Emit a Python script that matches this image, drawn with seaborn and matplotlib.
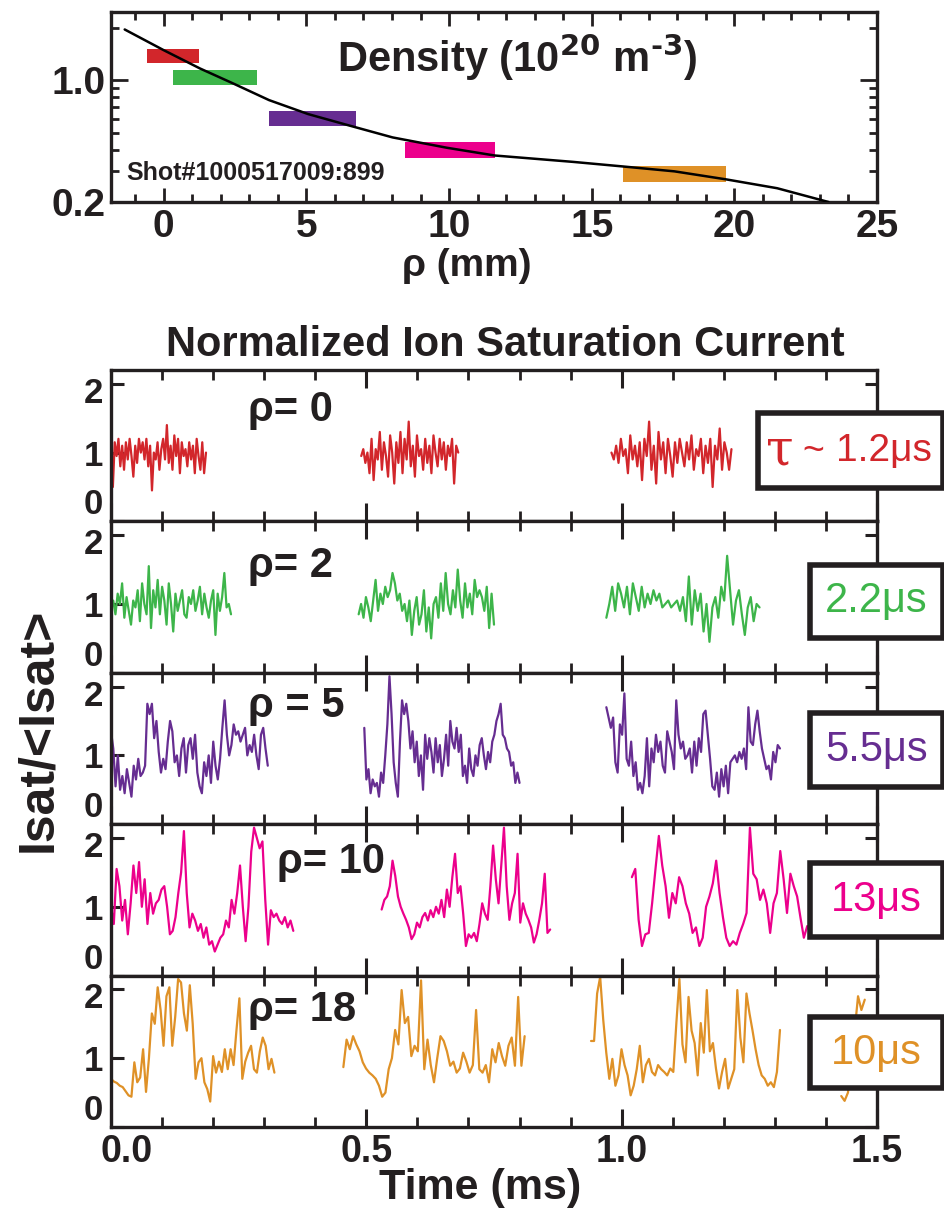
import numpy as np
import pandas as pd
import matplotlib
matplotlib.use("Agg")
import matplotlib.pyplot as plt
import seaborn as sns
from matplotlib.patches import Rectangle
from matplotlib.transforms import ScaledTranslation
from matplotlib.ticker import MultipleLocator, NullFormatter, FixedLocator, FormatStrFormatter

# ---- density profile (top panel) ----
rho_curve = [-1.37, 0.0, 1.27, 2.43, 3.69, 5.06, 6.33, 8.02, 9.92, 11.6, 14.35, 16.1, 17.9, 19.7, 21.5, 23.3]
dens_curve = [1.96, 1.49, 1.17, 0.96, 0.77, 0.64, 0.56, 0.47, 0.41, 0.37, 0.34, 0.32, 0.30, 0.27, 0.24, 0.20]

bar_rho_lo = [-0.59, 0.32, 3.69, 8.44, 16.1]
bar_rho_hi = [1.22, 3.27, 6.75, 11.6, 19.7]
bar_n_lo = [1.26, 0.94, 0.55, 0.36, 0.26]
bar_n_hi = [1.51, 1.14, 0.67, 0.44, 0.32]

colors = ["#d2262b", "#3db54a", "#662d91", "#ec008c", "#df9127"]
rho_labels = ["ρ= 0", "ρ= 2", "ρ = 5", "ρ= 10", "ρ= 18"]
tau_labels = ["1.2μs", "2.2μs", "5.5μs", "13μs", "10μs"]

# ---- normalized Isat time series, one list per segment ----
t_rho0 = [(0.0, 0.186), (0.49, 0.68), (0.98, 1.215)]
isat_rho0 = [
    [1.05, 0.5, 1.15, 0.95, 1.2, 0.8, 1.1, 0.75, 1.15, 0.9, 1.2, 0.95, 0.65, 1.1, 0.85, 1.2, 1.0, 1.15, 0.9, 1.2,
     0.8, 1.1, 0.45, 1.0, 0.9, 1.15, 0.75, 1.05, 1.2, 0.9, 1.4, 0.85, 1.1, 0.75, 1.25, 0.95, 1.2, 0.7, 1.15, 0.95,
     1.05, 0.8, 1.15, 0.9, 1.1, 0.7, 1.2, 0.95, 0.75, 1.15, 0.7, 1.0],
    [0.95, 1.05, 0.85, 1.0, 0.7, 1.2, 0.6, 1.05, 0.9, 1.3, 0.75, 1.15, 0.95, 0.65, 1.25, 1.0, 0.55, 1.15, 0.85, 1.3,
     0.7, 1.2, 0.9, 1.45, 0.8, 1.1, 0.65, 1.25, 0.95, 1.05, 0.75, 1.2, 0.85, 1.1, 0.7, 1.25, 1.0, 0.8, 1.2, 0.9,
     1.15, 0.75, 1.1, 0.95, 1.2, 0.55, 1.1, 1.0],
    [1.0, 0.9, 1.1, 0.85, 1.2, 0.95, 1.05, 0.7, 1.25, 0.9, 1.1, 0.8, 1.15, 0.6, 1.2, 0.95, 1.45, 0.75, 1.1, 0.55,
     1.3, 0.9, 1.15, 0.7, 1.2, 0.95, 0.65, 1.15, 0.85, 1.2, 1.0, 0.8, 1.15, 0.9, 1.25, 0.75, 1.05, 0.95, 1.2, 0.7,
     1.1, 0.85, 1.2, 0.5, 1.1, 0.9, 1.35, 0.75, 1.15, 1.0, 0.75, 1.05],
]

t_rho2 = [(0.0, 0.235), (0.485, 0.75), (0.97, 1.27)]
isat_rho2 = [
    [0.95, 1.05, 0.85, 1.15, 1.0, 1.3, 0.8, 1.1, 0.9, 0.7, 1.05, 0.95, 1.2, 0.75, 1.3, 1.0, 0.85, 1.55, 0.65, 1.2,
     0.95, 1.35, 0.85, 1.25, 1.05, 0.7, 1.3, 1.0, 0.6, 1.15, 0.9, 1.05, 1.2, 0.85, 0.8, 1.1, 1.0, 1.2, 0.9, 1.05,
     1.25, 0.85, 1.15, 0.95, 0.8, 1.05, 1.2, 0.55, 1.15, 0.9, 1.1, 1.45, 0.95, 1.0, 0.85],
    [0.85, 1.0, 0.8, 1.1, 0.95, 0.75, 1.05, 1.35, 0.9, 1.15, 1.0, 1.25, 1.1, 1.2, 1.45, 1.3, 1.05, 1.15, 0.9, 1.0,
     0.75, 1.05, 0.55, 0.9, 1.1, 0.7, 0.85, 1.2, 0.6, 0.95, 0.5, 1.0, 1.1, 0.8, 1.3, 0.9, 1.45, 1.0, 0.85, 1.2,
     0.95, 1.5, 1.05, 0.8, 1.3, 0.95, 1.15, 0.85, 1.35, 1.1, 1.2, 1.1, 0.9, 1.25, 0.65, 1.15, 0.7],
    [0.8, 1.0, 1.25, 0.9, 1.3, 1.15, 0.95, 1.25, 0.85, 1.3, 1.1, 0.9, 1.25, 0.95, 1.15, 1.0, 1.2, 1.05, 1.15, 0.95,
     1.0, 1.05, 0.95, 1.0, 1.05, 0.9, 1.1, 0.75, 1.4, 0.7, 1.2, 0.9, 1.15, 0.6, 1.0, 0.45, 0.95, 1.1, 0.8, 1.25,
     1.05, 1.7, 1.2, 0.7, 1.05, 1.2, 0.85, 0.55, 0.95, 1.1, 0.75, 1.0, 0.95],
]

t_rho5 = [(0.0, 0.307), (0.496, 0.80), (0.97, 1.31)]
isat_rho5 = [
    [1.35, 1.1, 0.55, 1.0, 0.5, 0.7, 0.45, 0.8, 0.6, 0.4, 0.85, 0.65, 0.95, 0.7, 0.75, 0.85, 1.75, 1.6, 1.75, 1.25,
     1.5, 1.05, 0.75, 0.95, 0.8, 1.2, 1.5, 1.35, 0.9, 1.0, 0.7, 1.1, 1.25, 0.75, 1.15, 1.25, 0.95, 1.3, 0.75, 0.55,
     0.45, 0.9, 0.7, 1.0, 0.6, 1.2, 0.85, 0.65, 0.95, 1.4, 1.8, 1.3, 1.0, 1.15, 1.45, 1.3, 1.35, 1.2, 1.3, 1.4,
     1.0, 1.15, 1.05, 1.3, 1.0, 0.8, 1.3, 1.4, 1.1, 0.85],
    [1.4, 0.65, 0.8, 0.45, 0.65, 0.55, 0.6, 0.4, 0.75, 0.6, 1.0, 1.45, 2.15, 1.6, 0.9, 0.6, 0.4, 1.2, 1.8, 1.6,
     1.75, 1.5, 1.1, 1.35, 0.9, 1.2, 0.7, 1.0, 0.5, 1.3, 0.95, 1.25, 1.05, 0.75, 1.25, 0.9, 1.15, 0.7, 0.95, 1.3,
     0.85, 1.5, 1.2, 1.1, 1.4, 1.05, 1.3, 0.7, 0.85, 0.6, 1.1, 0.8, 0.7, 1.0, 0.85, 1.15, 1.25, 1.0, 0.8, 1.05,
     0.9, 1.2, 1.3, 1.5, 1.6, 1.75, 1.3, 1.25, 1.1, 1.05, 0.85, 0.9, 0.6, 0.75, 0.6],
    [1.7, 1.55, 1.4, 1.55, 0.9, 0.75, 1.45, 1.3, 1.9, 0.95, 0.85, 1.2, 0.7, 0.9, 0.5, 0.6, 0.45, 0.7, 1.25, 0.55,
     1.1, 0.9, 1.3, 1.05, 1.2, 0.85, 0.75, 1.35, 1.2, 1.05, 0.8, 1.8, 1.3, 1.1, 1.2, 0.95, 1.0, 1.1, 0.75, 1.2,
     0.85, 1.25, 1.05, 1.6, 1.65, 1.3, 0.95, 0.55, 0.5, 0.75, 0.4, 0.8, 0.55, 0.85, 0.45, 0.9, 0.95, 1.0, 0.9, 1.05,
     0.95, 1.1, 0.8, 1.7, 1.2, 1.15, 1.45, 1.65, 1.35, 1.1, 0.95, 0.8, 0.85, 0.65, 1.05, 0.9, 1.15, 1.1],
]

t_rho10 = [(0.0, 0.357), (0.53, 0.86), (1.02, 1.37)]
isat_rho10 = [
    [1.0, 0.75, 1.55, 1.3, 0.8, 1.1, 0.6, 1.05, 1.6, 1.2, 1.65, 1.0, 1.4, 0.75, 1.2, 0.9, 1.05, 1.1, 1.25, 1.3,
     1.0, 0.6, 0.65, 0.85, 1.2, 1.5, 2.1, 1.2, 0.7, 0.9, 0.8, 0.65, 0.75, 0.55, 0.7, 0.45, 0.5, 0.35, 0.45, 0.55,
     0.6, 0.8, 0.7, 1.1, 0.9, 1.2, 1.6, 1.0, 0.5, 1.0, 1.8, 2.15, 2.0, 1.85, 1.95, 1.1, 0.45, 0.95, 0.85, 0.9,
     0.8, 0.75, 0.85, 0.7, 0.8, 0.65],
    [0.96, 1.1, 1.15, 1.3, 1.67, 1.45, 1.15, 1.0, 0.9, 0.81, 0.7, 0.53, 0.6, 0.77, 0.7, 0.85, 0.91, 0.8, 0.95, 0.85,
     1.0, 0.9, 1.1, 0.85, 1.25, 1.0, 1.43, 1.77, 1.2, 1.3, 0.9, 0.43, 0.6, 0.55, 0.62, 0.5, 0.75, 1.05, 0.9, 0.81,
     1.3, 1.89, 1.4, 1.05, 1.6, 2.15, 1.3, 0.81, 1.05, 1.2, 1.77, 0.77, 1.05, 0.9, 0.81, 0.7, 0.48, 0.6, 0.81, 1.05,
     1.48, 0.62, 0.67],
    [1.43, 1.55, 0.81, 0.43, 0.6, 0.62, 1.05, 1.55, 2.03, 1.6, 1.3, 0.84, 1.2, 1.05, 1.43, 1.3, 1.05, 0.9, 0.62, 0.7,
     0.43, 0.55, 1.0, 1.15, 1.34, 1.67, 1.2, 0.85, 0.55, 0.43, 0.5, 0.45, 0.62, 0.75, 0.91, 2.15, 1.48, 1.4, 1.1, 1.25,
     1.05, 0.62, 1.05, 1.2, 1.81, 1.4, 0.91, 1.48, 1.3, 1.15, 0.84, 0.55, 0.72, 0.62],
]

t_rho18 = [(0.0, 0.32), (0.455, 0.81), (0.94, 1.31), (1.43, 1.476)]
isat_rho18 = [
    [0.70, 0.66, 0.64, 0.60, 0.58, 0.52, 0.46, 0.44, 0.94, 0.65, 0.72, 1.13, 0.51, 1.0, 1.65, 1.5, 2.03, 1.7, 1.18, 1.9,
     2.03, 1.18, 1.6, 2.15, 2.1, 1.65, 1.4, 2.06, 1.5, 0.70, 0.94, 1.0, 0.65, 0.55, 0.37, 1.03, 0.79, 0.95, 0.8, 1.13,
     0.84, 1.13, 0.9, 1.41, 1.87, 0.70, 0.95, 1.08, 1.18, 0.84, 0.79, 1.1, 1.30, 1.18, 0.84, 0.99, 0.79],
    [0.87, 1.27, 1.13, 1.32, 1.2, 1.1, 0.94, 0.85, 0.79, 0.75, 0.7, 0.6, 0.44, 0.5, 0.84, 1.0, 1.41, 1.2, 1.99, 1.51,
     1.6, 1.03, 1.18, 1.1, 2.13, 0.84, 1.27, 0.9, 0.65, 1.0, 1.32, 1.25, 1.1, 0.89, 0.95, 0.79, 0.85, 1.08, 0.95, 0.79,
     0.9, 1.70, 0.84, 0.79, 0.9, 0.65, 1.13, 0.94, 1.22, 1.03, 0.89, 1.18, 1.3, 0.89, 1.89, 0.89, 1.32],
    [1.25, 1.25, 1.94, 2.18, 1.56, 1.08, 0.70, 0.99, 0.6, 0.75, 1.13, 0.9, 0.75, 0.46, 0.6, 0.84, 1.18, 0.65, 0.9, 0.99,
     0.8, 0.75, 0.9, 0.84, 0.8, 0.75, 0.85, 0.8, 1.51, 2.15, 1.2, 0.94, 1.89, 1.4, 1.22, 0.75, 1.51, 1.08, 1.99, 1.1,
     1.22, 0.85, 0.56, 0.8, 0.99, 0.56, 0.7, 0.84, 1.99, 1.3, 0.94, 1.94, 1.65, 1.4, 1.13, 0.9, 0.75, 0.70, 0.6, 0.65,
     0.58, 0.8, 1.41],
    [0.45, 0.38, 0.5, 1.0, 1.4, 1.9, 1.7, 1.85],
]

panel_times = [t_rho0, t_rho2, t_rho5, t_rho10, t_rho18]
panel_isat = [isat_rho0, isat_rho2, isat_rho5, isat_rho10, isat_rho18]

# ---- style ----
sns.set_style("ticks")
FONT = ["Liberation Sans", "DejaVu Sans"]
plt.rcParams["font.family"] = FONT
plt.rcParams["font.weight"] = "bold"
plt.rcParams["axes.linewidth"] = 2.4
plt.rcParams["axes.edgecolor"] = "#231f20"
plt.rcParams["xtick.direction"] = "in"
plt.rcParams["ytick.direction"] = "in"
plt.rcParams["xtick.top"] = True
plt.rcParams["ytick.right"] = True
plt.rcParams["mathtext.default"] = "bf"

W, H = 945, 1222
fig = plt.figure(figsize=(W / 100, H / 100), dpi=100)


def fx(px):
    return px / W


def fy(py):
    return 1 - py / H


def nudge(lab, dx_px, dy_px):
    # shift a tick label by a few pixels (positive dy = up)
    lab.set_transform(lab.get_transform() + ScaledTranslation(dx_px / 100, dy_px / 100, fig.dpi_scale_trans))


LEFT, RIGHT = 111, 877
INK = "#231f20"

# ---- top: density ----
ax0 = fig.add_axes([fx(LEFT), fy(202), fx(RIGHT) - fx(LEFT), (202 - 12) / H])
for x0, x1, lo, hi, c in zip(bar_rho_lo, bar_rho_hi, bar_n_lo, bar_n_hi, colors):
    ax0.fill_between([x0, x1], [lo, lo], [hi, hi], color=c, lw=0, zorder=2)
sns.lineplot(x=rho_curve, y=dens_curve, ax=ax0, color="black", linewidth=1.8, zorder=3)
ax0.set_yscale("log")
ax0.set_xlim(-1.85, 25)
ax0.set_ylim(0.2, 2.47)
ax0.yaxis.set_major_locator(FixedLocator([0.2, 1.0]))
ax0.yaxis.set_major_formatter(FormatStrFormatter("%.1f"))
ax0.yaxis.set_minor_locator(FixedLocator([0.3, 0.4, 0.5, 0.6, 0.7, 0.8, 0.9, 2.0]))
ax0.yaxis.set_minor_formatter(NullFormatter())
ax0.xaxis.set_major_locator(MultipleLocator(5))
ax0.xaxis.set_minor_locator(MultipleLocator(1))
ax0.tick_params(which="major", length=10, width=2, labelsize=28, pad=5, colors=INK)
ax0.tick_params(which="minor", length=6, width=2, colors=INK)
ax0.tick_params(axis="y", which="major", length=12, pad=4)
for lab in ax0.get_xticklabels() + ax0.get_yticklabels():
    lab.set_fontweight("bold")
ax0.text(0.53, 0.76, "Density (10$^{20}$ m$^{\\text{-}3}$)", transform=ax0.transAxes,
         ha="center", va="center", fontsize=30, fontweight="bold", color=INK)
ax0.text(0.02, 0.15, "Shot#1000517009:899", transform=ax0.transAxes, ha="left", va="center",
         fontsize=18, fontweight="bold", color=INK)
fig.text(fx(467), fy(266), "ρ (mm)", ha="center", va="center", fontsize=28, fontweight="bold", color=INK)

# ---- bottom: Isat panels ----
fig.text(fx(505), fy(345), "Normalized Ion Saturation Current", ha="center", va="center",
         fontsize=30, fontweight="bold", color=INK)

top, ph = 370, 151.4
for i in range(5):
    y_top = top + i * ph
    ax = fig.add_axes([fx(LEFT), fy(y_top + ph), fx(RIGHT) - fx(LEFT), ph / H])
    for (t0, t1), vals in zip(panel_times[i], panel_isat[i]):
        t = np.linspace(t0, t1, len(vals))
        sns.lineplot(x=t, y=vals, ax=ax, color=colors[i], linewidth=1.6)
    ax.set_xlim(0, 1.5)
    ax.set_ylim(0, 2.2)
    ax.yaxis.set_major_locator(FixedLocator([0, 1, 2]))
    ax.yaxis.set_major_formatter(FormatStrFormatter("%d"))
    ax.xaxis.set_major_locator(FixedLocator([0.0, 0.5, 1.0, 1.5]))
    ax.xaxis.set_major_formatter(FormatStrFormatter("%.1f"))
    ax.xaxis.set_minor_locator(MultipleLocator(0.1))
    ax.tick_params(axis="x", which="major", length=13, width=2.2, colors=INK)
    ax.tick_params(axis="x", which="minor", length=7, width=2, colors=INK)
    ax.tick_params(axis="y", which="major", length=9, width=2.2, labelsize=25, pad=6, colors=INK)
    if i < 4:
        ax.tick_params(axis="x", labelbottom=False)
    else:
        ax.tick_params(axis="x", labelsize=27, pad=5)
        nudge(ax.get_xticklabels()[0], 16, 0)
    ylabs = ax.get_yticklabels()
    ylabs[0].set_verticalalignment("bottom")
    nudge(ylabs[2], 0, -6)
    for lab in ax.get_xticklabels() + ylabs:
        lab.set_fontweight("bold")

label_x = [248, 248, 248, 277, 248]
label_y = [410, 566, 706, 862, 1010]
for lx, ly, txt in zip(label_x, label_y, rho_labels):
    fig.text(fx(lx), fy(ly), txt, ha="left", va="center", fontsize=30, fontweight="bold", color=INK)

# tau boxes
box_x0 = [758, 810, 810, 810, 810]
box_y = [(413, 488), (565, 638), (713, 787), (863, 937), (1017, 1088)]
for i, (bx, (by0, by1)) in enumerate(zip(box_x0, box_y)):
    rect = Rectangle((fx(bx), fy(by1)), fx(943) - fx(bx), (by1 - by0) / H, transform=fig.transFigure,
                     facecolor="white", edgecolor=INK, lw=4, zorder=10)
    fig.patches.append(rect)
    cy = fy((by0 + by1) / 2)
    if i == 0:
        fig.text(fx(766), cy, "τ", ha="left", va="center", fontsize=36, color=colors[i],
                 family=["DejaVu Serif"], fontweight="normal", zorder=11)
        fig.text(fx(802), cy - 0.001, "~", ha="left", va="center", fontsize=27, color=colors[i],
                 fontweight="normal", zorder=11)
        fig.text(fx(836), cy, tau_labels[i], ha="left", va="center", fontsize=28, color=colors[i],
                 fontweight="normal", zorder=11)
    else:
        fig.text(fx((bx + 943) / 2), cy, tau_labels[i], ha="center", va="center", fontsize=30,
                 color=colors[i], fontweight="normal", zorder=11)

fig.text(fx(38), fy(730), "Isat/<Isat>", rotation=90, ha="center", va="center", fontsize=36,
         fontweight="bold", color=INK)
fig.text(fx(480), fy(1188), "Time (ms)", ha="center", va="center", fontsize=31, fontweight="bold", color=INK)

fig.savefig("out.png", dpi=100)
